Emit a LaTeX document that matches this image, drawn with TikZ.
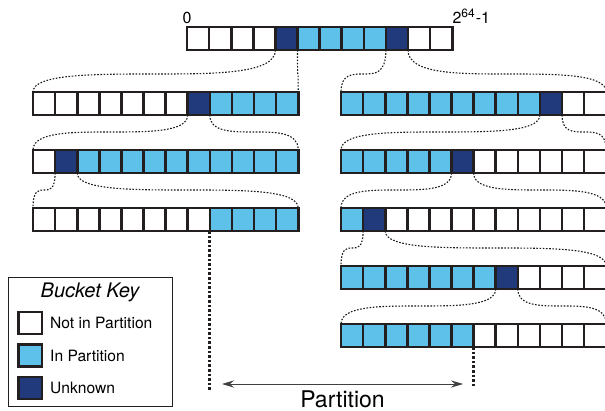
\documentclass[tikz,border=0pt]{standalone}
\usepackage{fontspec}
\setmainfont{TeX Gyre Heros}
\usetikzlibrary{arrows.meta,calc}

\definecolor{edge}{HTML}{231F20}
\definecolor{n}{HTML}{FFFFFF}
\definecolor{p}{HTML}{5DC1EA}
\definecolor{u}{HTML}{213A7C}

\tikzset{
  cell/.style={draw=edge, line width=1.3pt, fill=#1, minimum width=11.05pt,
    minimum height=11.5pt, inner sep=0pt, outer sep=0pt, anchor=north west},
  link/.style={draw=black!90, line width=0.55pt, dash pattern=on 0.8pt off 0.8pt},
  cutline/.style={draw=edge, line width=1.5pt, dash pattern=on 1.3pt off 1pt},
  lbl/.style={font=\fontsize{8}{9}\selectfont, inner sep=0pt},
}

\begin{document}
\begin{tikzpicture}[x=0.5pt, y=-0.5pt]
    \useasboundingbox (0,0) rectangle (605,411);

    % bucket rows
    \foreach \row/\x/\y/\cells in {
        top/187/27/{n,n,n,n,u,p,p,p,p,u,n,n},
        la/33/92/{n,n,n,n,n,n,n,u,p,p,p,p},
        lb/33/150/{n,u,p,p,p,p,p,p,p,p,p,p},
        lc/33/208/{n,n,n,n,n,n,n,n,p,p,p,p},
        ra/341/92/{p,p,p,p,p,p,p,p,p,u,n,n},
        rb/341/150/{p,p,p,p,p,u,n,n,n,n,n,n},
        rc/341/208/{p,u,n,n,n,n,n,n,n,n,n,n},
        rd/341/266/{p,p,p,p,p,p,p,u,n,n,n,n},
        re/341/324/{p,p,p,p,p,p,n,n,n,n,n,n}} {
        \foreach \c [count=\i] in \cells {
            \node[cell=\c] (\row-\i) at ({\x+(\i-1)*22.1},\y) {};
        }
    }

    \node[lbl, anchor=south] (lo) at ([yshift=1.5pt]top-1.north west) {0};
    \node[lbl, anchor=south west] (hi) at ([yshift=1.5pt]top-12.north east) {2\textsuperscript{64}-1};

    % unknown bucket -> next row
    \foreach \src/\dst in {top-5/la, top-10/ra, la-8/lb, lb-2/lc,
                           ra-10/rb, rb-6/rc, rc-2/rd, rd-8/re} {
        \draw[link] let \p1=(\src.south west), \p2=(\dst-1.north west),
                        \n1={\y2+9pt}, \n2={(\x1+\x2)/2} in
            (\p1) .. controls (\x1,\n1) and ({(\x1+\n2)/2},\n1) .. (\n2,\n1)
                  .. controls ({(\n2+\x2)/2},\n1) and (\x2,\n1) .. (\p2);
        \draw[link] let \p1=(\src.south east), \p2=(\dst-12.north east),
                        \n1={\y2+9pt}, \n2={(\x1+\x2)/2} in
            (\p1) .. controls (\x1,\n1) and ({(\x1+\n2)/2},\n1) .. (\n2,\n1)
                  .. controls ({(\n2+\x2)/2},\n1) and (\x2,\n1) .. (\p2);
    }

    % partition bounds
    \coordinate (cut-l) at (lc-8.south east |- 0,390);
    \coordinate (cut-r) at (re-6.south east |- 0,388);
    \draw[cutline] (lc-8.south east) -- (cut-l);
    \draw[cutline] (re-6.south east) -- (cut-r);

    \coordinate (arr-l) at (222,384);
    \coordinate (arr-r) at (463,384);
    \draw[{Stealth[length=6pt,width=3.6pt,inset=2pt]}-{Stealth[length=6pt,width=3.6pt,inset=2pt]},
          line width=0.5pt, draw=black!75] (arr-l) -- (arr-r)
        node[midway, below=3pt, inner sep=0pt, font=\fontsize{11.5}{13}\selectfont] (part) {Partition};

    % key
    \node[draw=edge, line width=0.5pt, minimum width=82pt, minimum height=64.5pt,
          anchor=north west, inner sep=0pt] (key) at (8,277) {};
    \node[font=\fontsize{10}{12}\selectfont\itshape, inner sep=0pt] (keytitle) at (90,292) {Bucket Key};
    \foreach \c/\txt [count=\i] in {n/Not in Partition, p/In Partition, u/Unknown} {
        \node[cell=\c, minimum width=11.8pt, minimum height=11pt, anchor=center]
            (key-\c) at (30,{323+(\i-1)*32.5}) {};
        \node[lbl, font=\fontsize{7.8}{9}\selectfont, anchor=west]
            (key-\c-txt) at ([xshift=4pt]key-\c.east) {\txt};
    }
    
\end{tikzpicture}
\end{document}
